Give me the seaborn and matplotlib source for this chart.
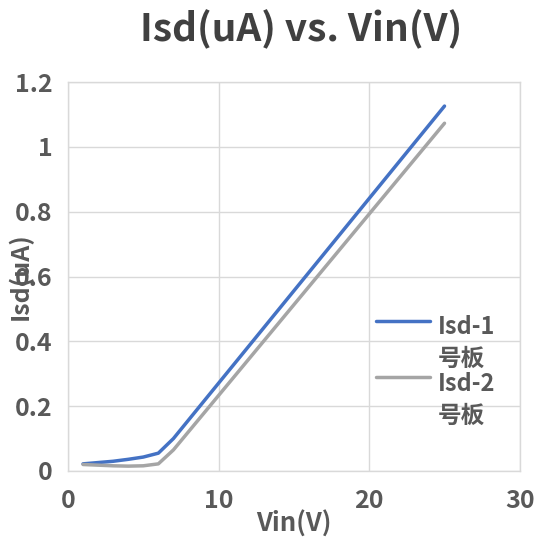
import numpy as np
import pandas as pd
import matplotlib
matplotlib.use("Agg")
import matplotlib.pyplot as plt
import seaborn as sns
from matplotlib.lines import Line2D
from matplotlib.legend_handler import HandlerLine2D

# data
vin = [1, 2, 3, 4, 5, 6, 7, 8, 9, 10, 11, 12, 13, 14, 15, 16, 17, 18, 19, 20, 21, 22, 23, 24, 25]
isd_1 = [0.022, 0.026, 0.030, 0.036, 0.043, 0.055, 0.100, 0.157, 0.214, 0.271, 0.328, 0.385, 0.442,
         0.499, 0.556, 0.613, 0.670, 0.727, 0.784, 0.841, 0.898, 0.955, 1.012, 1.069, 1.126]
isd_2 = [0.020, 0.018, 0.016, 0.015, 0.016, 0.022, 0.065, 0.121, 0.177, 0.233, 0.289, 0.345, 0.401,
         0.457, 0.513, 0.569, 0.625, 0.681, 0.737, 0.793, 0.849, 0.905, 0.961, 1.017, 1.073]
series_names = ["Isd-1\n号板", "Isd-2\n号板"]
x_ticks = [0, 10, 20, 30]
y_ticks = [0, 0.2, 0.4, 0.6, 0.8, 1, 1.2]
y_tick_labels = ["0", "0.2", "0.4", "0.6", "0.8", "1", "1.2"]

df = pd.concat([
    pd.DataFrame({"Vin": vin, "Isd": isd_1, "series": series_names[0]}),
    pd.DataFrame({"Vin": vin, "Isd": isd_2, "series": series_names[1]}),
])

sns.set_theme(style="white")
plt.rcParams['font.family'] = ['Noto Sans CJK SC', 'DejaVu Sans']
plt.rcParams['font.weight'] = 'bold'

text_color = "#595959"
grid_color = "#D9D9D9"

fig = plt.figure(figsize=(5.37, 5.4), dpi=100)
ax = fig.add_axes([0.1266, 0.1278, 0.8414, 0.7202])

sns.lineplot(data=df, x="Vin", y="Isd", hue="series", ax=ax,
             palette=["#4472C4", "#A5A5A5"], linewidth=2.5, legend=False)

ax.set_xlim(0, 30)
ax.set_ylim(0, 1.2)
ax.set_xticks(x_ticks)
ax.set_yticks(y_ticks)
ax.set_yticklabels(y_tick_labels)
ax.grid(True, color=grid_color, linewidth=1)
ax.set_axisbelow(True)
for sp in ax.spines.values():
    sp.set_color(grid_color)
    sp.set_linewidth(1)
ax.tick_params(axis='x', length=0, labelsize=18, labelcolor=text_color, pad=13)
ax.tick_params(axis='y', length=0, labelsize=18, labelcolor=text_color, pad=11)
for lab in ax.get_xticklabels() + ax.get_yticklabels():
    lab.set_fontweight('bold')

ax.set_xlabel("Vin(V)", fontsize=18.5, fontweight='bold', color=text_color, labelpad=-2)
ax.set_ylabel("Isd(uA)", fontsize=18, fontweight='bold', color=text_color)
ax.yaxis.set_label_coords(-0.078, 0.5)

fig.text(0.561, 0.946, "Isd(uA) vs. Vin(V)", ha='center', va='center',
         fontsize=28, fontweight='bold', color="#404040")


class TopHandler(HandlerLine2D):
    # put the legend line next to the first text row, like Excel does
    def create_artists(self, legend, orig_handle, xdescent, ydescent, width, height, fontsize, trans):
        artists = super().create_artists(legend, orig_handle, xdescent, ydescent, width, height, fontsize, trans)
        for a in artists:
            a.set_ydata(np.asarray(a.get_ydata()) + 1.0 * fontsize)
        return artists


handles = [Line2D([], [], color="#4472C4", linewidth=2.5),
           Line2D([], [], color="#A5A5A5", linewidth=2.5)]
leg = ax.legend(handles, series_names, handler_map={Line2D: TopHandler()},
                loc='upper left', bbox_to_anchor=(0.66, 0.425), frameon=False,
                prop={'size': 17, 'weight': 'bold'}, handlelength=2.3,
                handletextpad=0.35, labelspacing=0.05, borderaxespad=0)
for t in leg.get_texts():
    t.set_color(text_color)
    t.set_linespacing(1.4)

plt.savefig("out.png", dpi=100)
